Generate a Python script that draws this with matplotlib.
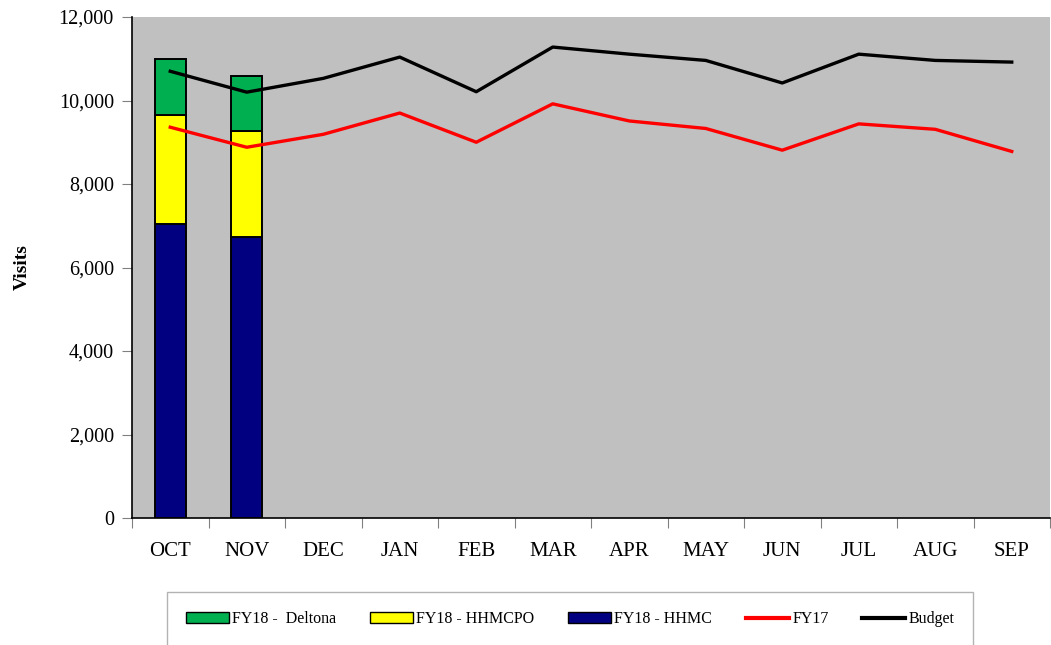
import numpy as np
import matplotlib
matplotlib.use('Agg')
from matplotlib import pyplot as plt
from matplotlib.patches import Patch
from matplotlib.lines import Line2D
from matplotlib.ticker import FuncFormatter, FixedLocator

plt.rcParams['font.family'] = ['Liberation Serif', 'DejaVu Serif']

months = ['OCT', 'NOV', 'DEC', 'JAN', 'FEB', 'MAR', 'APR', 'MAY', 'JUN', 'JUL', 'AUG', 'SEP']

# FY18 stacked bars (only OCT, NOV reported)
hhmc = [7040, 6730]
hhmcpo = [2610, 2540]
deltona = [1340, 1310]

fy17 = [9360, 8880, 9190, 9700, 9000, 9920, 9510, 9330, 8810, 9440, 9310, 8780]
budget = [10700, 10200, 10530, 11040, 10210, 11280, 11110, 10960, 10420, 11110, 10960, 10920]

fig = plt.figure(figsize=(10.51, 6.45), dpi=100)
ax = fig.add_axes([132 / 1051, 1 - 518 / 645, 918 / 1051, 501 / 645])
ax.set_facecolor('#C0C0C0')

x = np.arange(len(months))
xb = x[:len(hhmc)]
bw = 0.4
ax.bar(xb, hhmc, bw, color='#000080', edgecolor='black', linewidth=1.4, zorder=2)
ax.bar(xb, hhmcpo, bw, bottom=hhmc, color='#FFFF00', edgecolor='black', linewidth=1.4, zorder=2)
ax.bar(xb, deltona, bw, bottom=np.add(hhmc, hhmcpo), color='#00B050', edgecolor='black', linewidth=1.4, zorder=2)

ax.plot(x, fy17, color='#FF0000', linewidth=2.4, zorder=3)
ax.plot(x, budget, color='black', linewidth=2.4, zorder=3)

ax.set_xlim(-0.5, len(months) - 0.5)
ax.set_ylim(0, 12000)
ax.set_yticks(np.arange(0, 12001, 2000))
ax.yaxis.set_major_formatter(FuncFormatter(lambda v, p: '{:,.0f}'.format(v)))
ax.xaxis.set_major_locator(FixedLocator(np.arange(-0.5, len(months), 1)))
ax.xaxis.set_major_formatter(FuncFormatter(lambda v, p: ''))
ax.set_xticks(x, minor=True)
ax.set_xticklabels(months, minor=True)
ax.tick_params(axis='x', which='minor', length=0, pad=17, labelsize=15)
ax.tick_params(axis='x', which='major', length=7, color='gray', direction='out')
ax.tick_params(axis='y', length=7, color='gray', labelsize=14.5, pad=6)

for s in ['top', 'right']:
    ax.spines[s].set_visible(False)
ax.spines['left'].set_linewidth(1.2)
ax.spines['bottom'].set_linewidth(1.2)

ax.set_ylabel('Visits', fontsize=14, fontweight='bold', labelpad=20)

handles = [
    Patch(facecolor='#00B050', edgecolor='black', label='FY18 -  Deltona'),
    Patch(facecolor='#FFFF00', edgecolor='black', label='FY18 - HHMCPO'),
    Patch(facecolor='#000080', edgecolor='black', label='FY18 - HHMC'),
    Line2D([], [], color='#FF0000', linewidth=3, label='FY17'),
    Line2D([], [], color='black', linewidth=3, label='Budget'),
]
leg = fig.legend(handles=handles, loc='upper left', bbox_to_anchor=(167 / 1051, 1 - 592 / 645),
                 ncol=5, fontsize=11.5, frameon=True, fancybox=False, handlelength=2.7,
                 handletextpad=0.2, columnspacing=2.1, borderpad=1.2, borderaxespad=0)
leg.get_frame().set_edgecolor('#A0A0A0')
leg.get_frame().set_linewidth(1.0)

plt.savefig('out.png', dpi=100)
plt.close()
